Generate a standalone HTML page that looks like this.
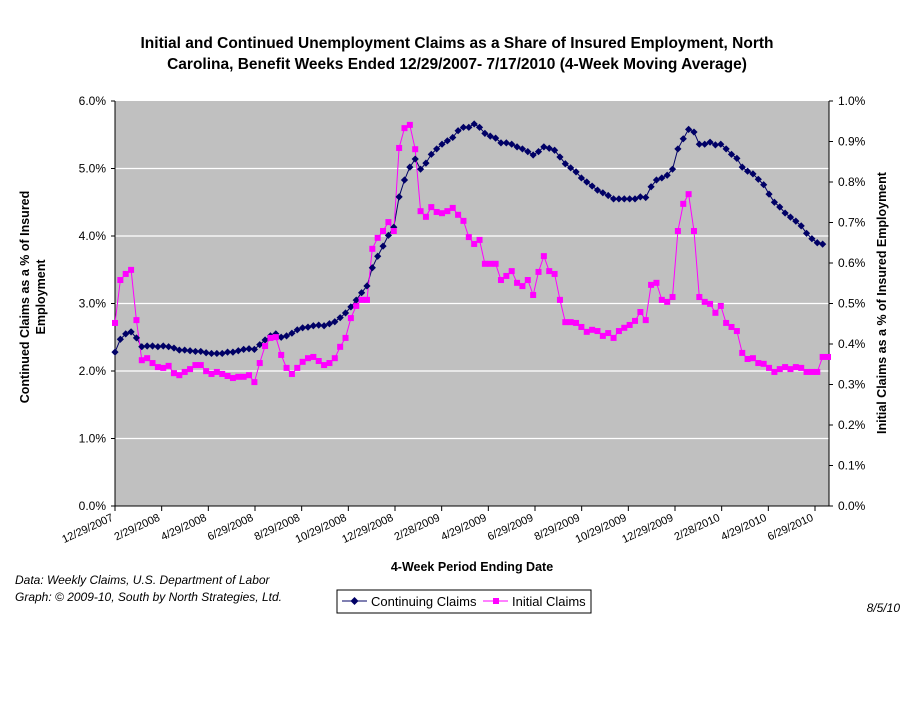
<!DOCTYPE html>
<html><head><meta charset="utf-8"><style>
body{margin:0;background:#fff;width:911px;height:728px;overflow:hidden;font-family:"Liberation Sans",Arial,sans-serif}
svg{display:block}
</style></head><body>
<svg id="chart" width="911" height="728" xmlns="http://www.w3.org/2000/svg">
<text x="457" y="48" text-anchor="middle" font-weight="bold" font-size="15.5">Initial and Continued Unemployment Claims as a Share of Insured Employment, North</text>
<text x="457" y="69" text-anchor="middle" font-weight="bold" font-size="15.5">Carolina, Benefit Weeks Ended 12/29/2007- 7/17/2010 (4-Week Moving Average)</text>
<rect x="115" y="101" width="714" height="405" fill="#c0c0c0"/>
<g id="grid"></g>
<line x1="115" y1="101" x2="115" y2="506" stroke="#000"/>
<line x1="829" y1="101" x2="829" y2="506" stroke="#000"/>
<line x1="115" y1="506" x2="829" y2="506" stroke="#000"/>
<g id="ticks"></g>
<g id="series"></g>
<text transform="translate(29,297) rotate(-90)" text-anchor="middle" font-weight="bold" font-size="12.5">Continued Claims as a % of Insured</text>
<text transform="translate(45,297) rotate(-90)" text-anchor="middle" font-weight="bold" font-size="12.5">Employment</text>
<text transform="translate(886,303) rotate(-90)" text-anchor="middle" font-weight="bold" font-size="12.5">Initial Claims as a % of Insured Employment</text>
<text x="472" y="571" text-anchor="middle" font-weight="bold" font-size="12.5">4-Week Period Ending Date</text>
<text x="15" y="584" font-style="italic" font-size="12">Data:  Weekly Claims, U.S. Department of Labor</text>
<text x="15" y="601" font-style="italic" font-size="12">Graph: © 2009-10, South by North Strategies, Ltd.</text>
<text x="900" y="612" text-anchor="end" font-style="italic" font-size="12">8/5/10</text>
<g>
<rect x="337" y="590" width="254" height="23" fill="#fff" stroke="#000"/>
<g>
<line x1="342" y1="601" x2="367" y2="601" stroke="#000066"/>
<path d="M354.5 597 L358.5 601 L354.5 605 L350.5 601 Z" fill="#000066"/>
<text x="371" y="606" font-size="13">Continuing Claims</text></g>
<g>
<line x1="483" y1="601" x2="508" y2="601" stroke="#ff00ff"/>
<rect x="493" y="598" width="6" height="6" fill="#ff00ff"/>
<text x="512" y="606" font-size="13">Initial Claims</text></g>
</g>
</svg>
<script>
const continuing=[2.28,2.47,2.55,2.58,2.49,2.36,2.37,2.37,2.36,2.37,2.36,2.34,2.31,2.31,2.30,2.29,2.29,2.27,2.26,2.26,2.26,2.28,2.28,2.30,2.32,2.33,2.32,2.39,2.46,2.52,2.55,2.50,2.52,2.56,2.61,2.64,2.65,2.67,2.68,2.67,2.70,2.73,2.79,2.86,2.95,3.05,3.16,3.26,3.53,3.70,3.85,4.01,4.13,4.58,4.83,5.02,5.14,4.99,5.08,5.21,5.29,5.36,5.41,5.46,5.56,5.61,5.61,5.66,5.61,5.52,5.48,5.45,5.38,5.38,5.36,5.32,5.29,5.25,5.20,5.25,5.32,5.30,5.27,5.17,5.07,5.01,4.95,4.86,4.80,4.74,4.68,4.64,4.60,4.55,4.55,4.55,4.55,4.55,4.58,4.57,4.73,4.83,4.86,4.90,4.99,5.29,5.44,5.58,5.54,5.36,5.36,5.39,5.35,5.36,5.29,5.21,5.15,5.02,4.96,4.92,4.84,4.76,4.62,4.50,4.43,4.34,4.28,4.22,4.15,4.04,3.96,3.90,3.88,null];
const initial=[0.452,0.558,0.573,0.583,0.459,0.360,0.365,0.353,0.343,0.341,0.346,0.328,0.323,0.331,0.338,0.348,0.348,0.333,0.326,0.331,0.326,0.321,0.316,0.319,0.319,0.323,0.306,0.353,0.395,0.415,0.417,0.373,0.341,0.326,0.341,0.356,0.365,0.368,0.358,0.348,0.353,0.365,0.393,0.415,0.464,0.494,0.509,0.509,0.635,0.662,0.679,0.701,0.679,0.884,0.933,0.941,0.881,0.728,0.714,0.738,0.726,0.723,0.728,0.736,0.719,0.704,0.664,0.647,0.657,0.598,0.598,0.598,0.558,0.568,0.580,0.551,0.543,0.558,0.521,0.578,0.617,0.580,0.573,0.509,0.454,0.454,0.452,0.442,0.430,0.435,0.432,0.420,0.427,0.415,0.432,0.440,0.447,0.457,0.479,0.459,0.546,0.551,0.509,0.504,0.516,0.679,0.746,0.770,0.679,0.516,0.504,0.499,0.477,0.494,0.452,0.442,0.432,0.378,0.363,0.365,0.353,0.351,0.341,0.331,0.338,0.343,0.338,0.343,0.341,0.331,0.331,0.331,0.368,0.368];
const xTickLabels=["12/29/2007","2/29/2008","4/29/2008","6/29/2008","8/29/2008","10/29/2008","12/29/2008","2/28/2009","4/29/2009","6/29/2009","8/29/2009","10/29/2009","12/29/2009","2/28/2010","4/29/2010","6/29/2010"];
const leftTicks=[0,1,2,3,4,5,6];
const rightTicks=[0,0.1,0.2,0.3,0.4,0.5,0.6,0.7,0.8,0.9,1.0];

const NS="http://www.w3.org/2000/svg";
const X0=115,X1=828,Y0=506,Y1=101,N=initial.length;
const xs=i=>X0+(X1-X0)*i/(N-1);
const yL=v=>Y0-(Y0-Y1)*v/6;
const yR=v=>Y0-(Y0-Y1)*v/1;
function mk(tag,attrs,parent){const e=document.createElementNS(NS,tag);for(const k in attrs)e.setAttribute(k,attrs[k]);parent.appendChild(e);return e;}
const grid=document.getElementById('grid'),ticks=document.getElementById('ticks'),series=document.getElementById('series');
leftTicks.forEach(v=>{
  if(v>0&&v<6){const g=mk('line',{x1:X0,x2:829,y1:yL(v),y2:yL(v),stroke:'#fff','stroke-width':1.3},grid);
  
  }
  const t=mk('text',{x:106,y:yL(v)+4,'text-anchor':'end','font-size':12},ticks);t.textContent=v.toFixed(1)+'%';
  
  
  mk('line',{x1:111,x2:115,y1:yL(v),y2:yL(v),stroke:'#000'},ticks);
});
rightTicks.forEach(v=>{
  const t=mk('text',{x:838,y:yR(v)+4,'font-size':12},ticks);t.textContent=v.toFixed(1)+'%';
  
  
  mk('line',{x1:829,x2:833,y1:yR(v),y2:yR(v),stroke:'#000'},ticks);
});
const step=(815-X0)/(xTickLabels.length-1);
xTickLabels.forEach((s,k)=>{
  const x=X0+k*step;
  mk('line',{x1:x,x2:x,y1:506,y2:511,stroke:'#000'},ticks);
  const t=mk('text',{transform:`translate(${x-1},520) rotate(-25)`,'text-anchor':'end','font-size':11},ticks);t.textContent=s;
  
  
});
function path(arr,fy){let d='';arr.forEach((v,i)=>{if(v==null)return;d+=(d?'L':'M')+xs(i).toFixed(1)+' '+fy(v).toFixed(1);});return d;}
const pc=mk('path',{d:path(continuing,yL),fill:'none',stroke:'#000066','stroke-width':1},series);


const pi=mk('path',{d:path(initial,yR),fill:'none',stroke:'#ff00ff','stroke-width':1},series);


continuing.forEach((v,i)=>{if(v==null)return;const x=xs(i),y=yL(v);
  const m=mk('path',{d:`M${x} ${y-3.6}L${x+3.6} ${y}L${x} ${y+3.6}L${x-3.6} ${y}Z`,fill:'#000066'},series);
  
  });
initial.forEach((v,i)=>{const x=xs(i),y=yR(v);
  const m=mk('rect',{x:x-3,y:y-3,width:6,height:6,fill:'#ff00ff'},series);
  
  });
</script>
</body></html>
